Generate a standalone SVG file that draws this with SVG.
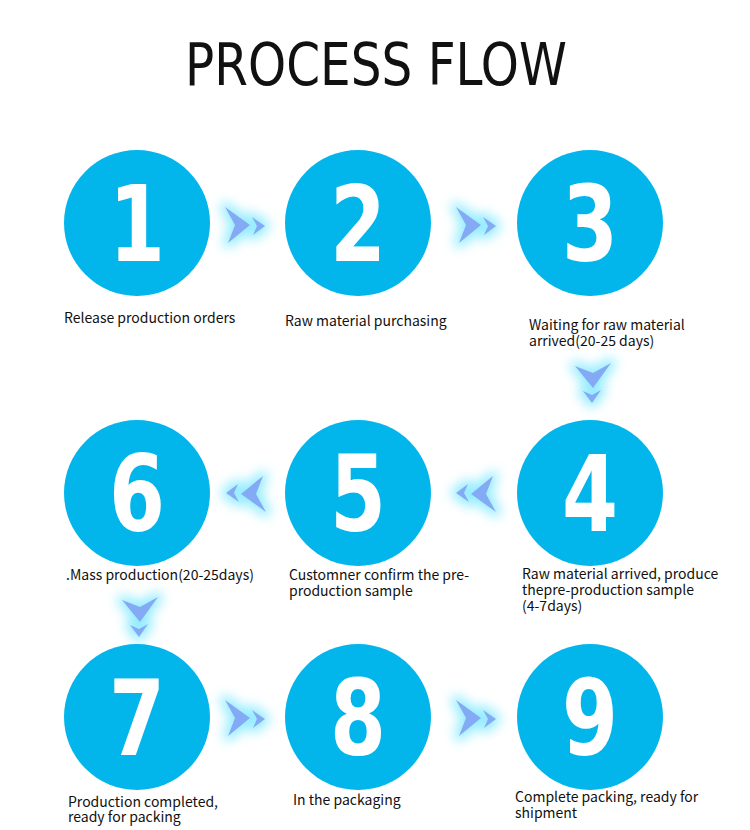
<svg xmlns="http://www.w3.org/2000/svg" xmlns:xlink="http://www.w3.org/1999/xlink" width="750" height="830" viewBox="0 0 750 830">
<style>
.c{fill:#02b6ec}
.n{font-family:"DejaVu Sans Condensed","DejaVu Sans",sans-serif;font-weight:bold;font-size:106px;fill:#fff;text-anchor:middle}
.t{font-family:"Noto Sans CJK SC","Noto Sans",sans-serif;font-size:14px;fill:#111}
.title{font-family:"DejaVu Sans","Liberation Sans",sans-serif;font-size:58px;fill:#111}
</style>
<defs>
<filter id="blur" x="-1" y="-1" width="3" height="3"><feGaussianBlur stdDeviation="6"/></filter>
<g id="arr">
<g filter="url(#blur)" fill="#7ae8ff" stroke="#7ae8ff" stroke-width="10" stroke-linejoin="round" opacity="0.8">
<path d="M-20,-18 L5,0 L-17,18 L-10,0 Z"/>
<path d="M7,-8 L20,1 L8,10 L12,1 Z"/>
</g>
<g fill="#84aaf5">
<path d="M-20,-18 L5,0 L-17,18 L-10,0 Z"/>
<path d="M7,-8 L20,1 L8,10 L12,1 Z"/>
</g>
</g>
</defs>
<rect width="750" height="830" fill="#fff"/>
<text class="title" x="185" y="85" textLength="382" lengthAdjust="spacingAndGlyphs">PROCESS FLOW</text>
<g id="connectors">
<use xlink:href="#arr" transform="translate(245,225)"/>
<use xlink:href="#arr" transform="translate(476,225)"/>
<use xlink:href="#arr" transform="translate(593,383) rotate(90)"/>
<use xlink:href="#arr" transform="translate(476,494) rotate(180)"/>
<use xlink:href="#arr" transform="translate(246,494) rotate(180)"/>
<use xlink:href="#arr" transform="translate(140,617) rotate(90)"/>
<use xlink:href="#arr" transform="translate(245,718)"/>
<use xlink:href="#arr" transform="translate(476,718)"/>
</g>
<g id="node1"><circle class="c" cx="137" cy="223" r="73"/><text class="n" x="137" y="261" textLength="56" lengthAdjust="spacingAndGlyphs">1</text><text class="t" x="64" y="323">Release production orders</text></g>
<g id="node2"><circle class="c" cx="358" cy="223" r="73"/><text class="n" x="358" y="261" textLength="56" lengthAdjust="spacingAndGlyphs">2</text><text class="t" x="285" y="326">Raw material purchasing</text></g>
<g id="node3"><circle class="c" cx="590" cy="223" r="73"/><text class="n" x="590" y="261" textLength="56" lengthAdjust="spacingAndGlyphs">3</text><text class="t" x="529" y="330">Waiting for raw material</text><text class="t" x="529" y="346">arrived(20-25 days)</text></g>
<g id="node4"><circle class="c" cx="590" cy="493" r="73"/><text class="n" x="590" y="531" textLength="56" lengthAdjust="spacingAndGlyphs">4</text><text class="t" x="522" y="579">Raw material arrived, produce</text><text class="t" x="522" y="595">thepre-production sample</text><text class="t" x="522" y="611">(4-7days)</text></g>
<g id="node5"><circle class="c" cx="358" cy="493" r="73"/><text class="n" x="358" y="531" textLength="56" lengthAdjust="spacingAndGlyphs">5</text><text class="t" x="289" y="580">Customner confirm the pre-</text><text class="t" x="289" y="596">production sample</text></g>
<g id="node6"><circle class="c" cx="137" cy="493" r="73"/><text class="n" x="137" y="531" textLength="56" lengthAdjust="spacingAndGlyphs">6</text><text class="t" x="66" y="580">.Mass production(20-25days)</text></g>
<g id="node7"><circle class="c" cx="137" cy="717" r="73"/><text class="n" x="137" y="755" textLength="56" lengthAdjust="spacingAndGlyphs">7</text><text class="t" x="68" y="807">Production completed,</text><text class="t" x="68" y="822">ready for packing</text></g>
<g id="node8"><circle class="c" cx="358" cy="717" r="73"/><text class="n" x="358" y="755" textLength="56" lengthAdjust="spacingAndGlyphs">8</text><text class="t" x="293" y="805">In the packaging</text></g>
<g id="node9"><circle class="c" cx="590" cy="717" r="73"/><text class="n" x="590" y="755" textLength="56" lengthAdjust="spacingAndGlyphs">9</text><text class="t" x="515" y="802">Complete packing, ready for</text><text class="t" x="515" y="818">shipment</text></g>
</svg>
